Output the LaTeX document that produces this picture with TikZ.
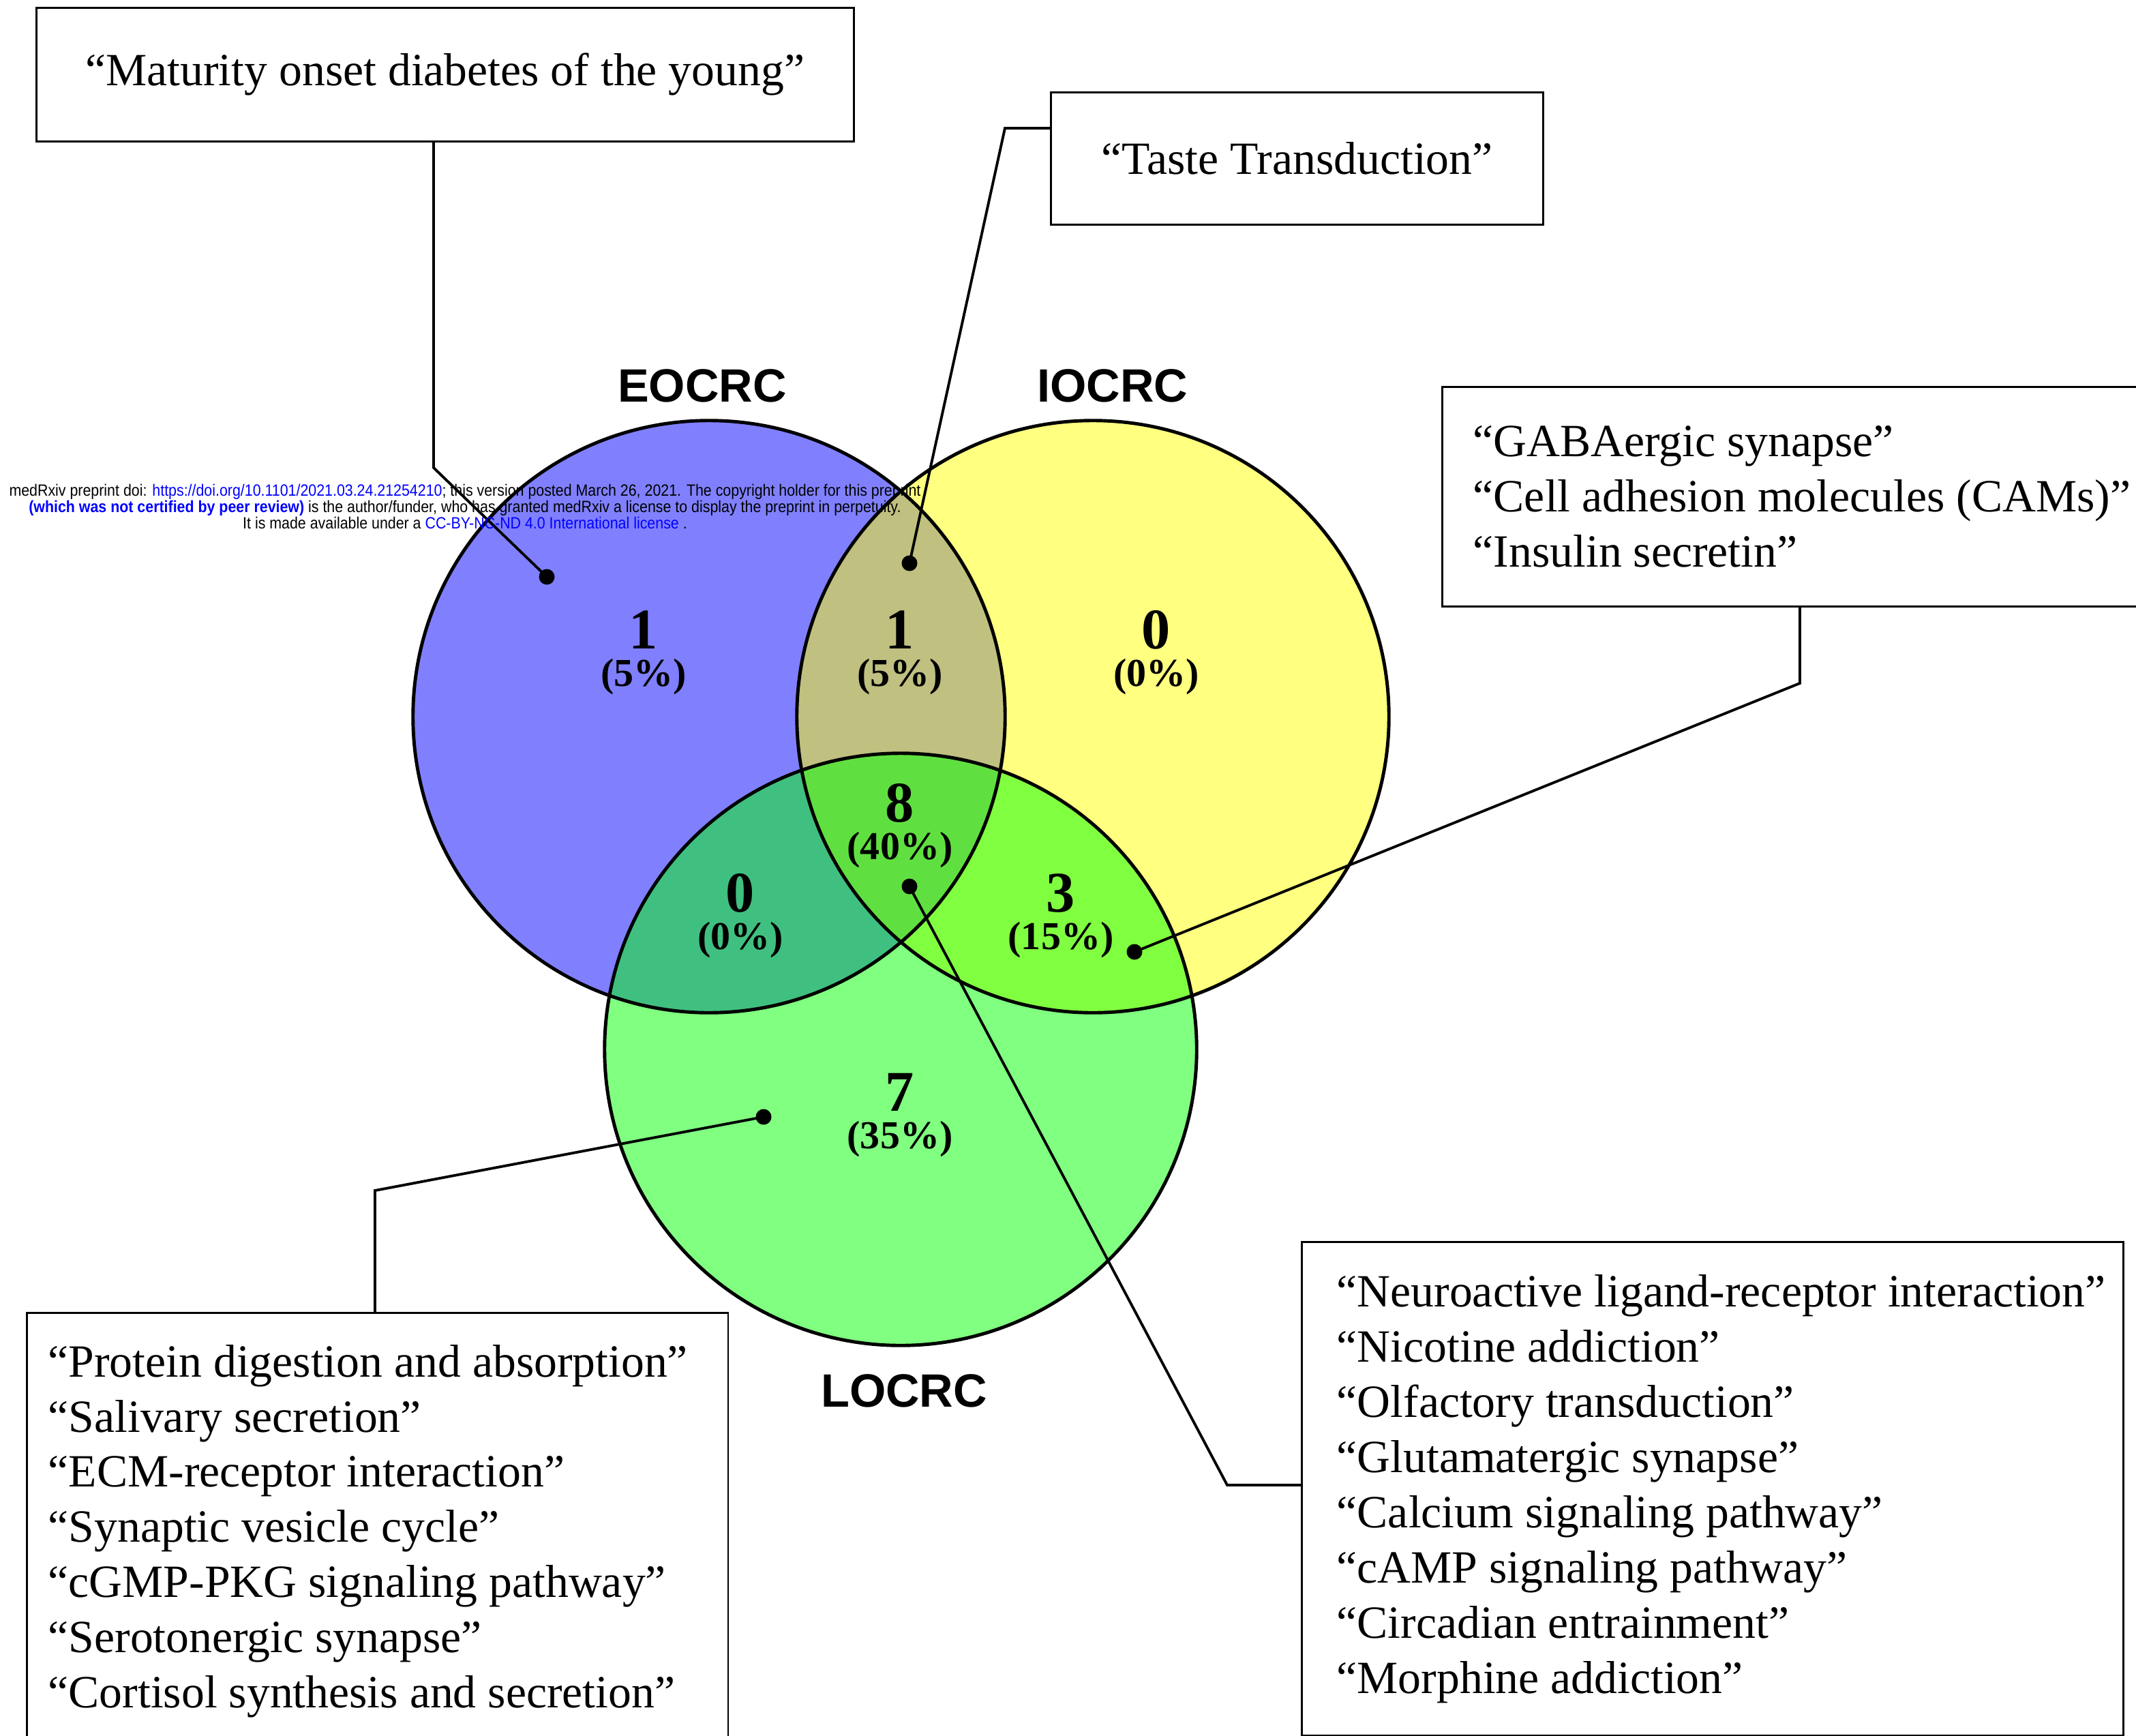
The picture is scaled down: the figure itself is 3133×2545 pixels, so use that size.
\documentclass[tikz,border=0pt]{standalone}
\usepackage{fontspec}
\setmainfont{Liberation Serif}
\setsansfont{Liberation Sans}
\definecolor{eblue}{RGB}{128,128,255}
\definecolor{iyellow}{RGB}{255,255,128}
\definecolor{lgreen}{RGB}{128,255,128}
\definecolor{eiolive}{RGB}{192,192,128}
\definecolor{elteal}{RGB}{64,192,128}
\definecolor{illime}{RGB}{128,255,64}
\definecolor{elicenter}{RGB}{96,224,64}
\definecolor{linkblue}{RGB}{0,0,255}
\begin{document}
\begin{tikzpicture}[x=0.01cm,y=-0.01cm,
  vennline/.style={draw, circle, line width=1.4pt, minimum size=8.68cm, inner sep=0pt},
  dotnode/.style={circle, fill=black, inner sep=0pt, minimum size=0.23cm},
  conn/.style={line width=1.1pt},
  boxframe/.style={draw, line width=0.8pt, inner sep=0pt, anchor=north west},
  boxtext/.style={inner sep=0pt, align=left, font=\fontsize{19.25}{23}\selectfont},
  cnt/.style={inner sep=0pt, font=\bfseries\fontsize{24}{24}\selectfont},
  pct/.style={inner sep=0pt, font=\bfseries\fontsize{16.5}{18}\selectfont},
  settitle/.style={font=\sffamily\bfseries\fontsize{19.5}{20}\selectfont}]
\clip (0,0) rectangle (3133,2545);
\fill[white] (0,0) rectangle (3133,2545);
\coordinate (cE) at (1040,1051);
\coordinate (cI) at (1603,1051);
\coordinate (cL) at (1321,1539);
% fills
\fill[eblue] (cE) circle[radius=4.34cm];
\fill[iyellow] (cI) circle[radius=4.34cm];
\fill[lgreen] (cL) circle[radius=4.34cm];
\begin{scope}
  \clip (cE) circle[radius=4.34cm];
  \fill[eiolive] (cI) circle[radius=4.34cm];
  \fill[elteal] (cL) circle[radius=4.34cm];
\end{scope}
\begin{scope}
  \clip (cI) circle[radius=4.34cm];
  \fill[illime] (cL) circle[radius=4.34cm];
\end{scope}
\begin{scope}
  \clip (cE) circle[radius=4.34cm];
  \clip (cI) circle[radius=4.34cm];
  \fill[elicenter] (cL) circle[radius=4.34cm];
\end{scope}
% outlines
\node[vennline] (E) at (cE) {};
\node[vennline] (I) at (cI) {};
\node[vennline] (L) at (cL) {};
% set titles
\node[settitle] (tE) at (1030,566) {EOCRC};
\node[settitle] (tI) at (1632,566) {IOCRC};
\node[settitle] (tL) at (1326,2040) {LOCRC};
% counts
\node[cnt] (n1) at (944,924) {1};   \node[pct] (p1) at (944,993) {(5\%)};
\node[cnt] (n2) at (1320,924) {1};  \node[pct] (p2) at (1320,993) {(5\%)};
\node[cnt] (n3) at (1696,924) {0};  \node[pct] (p3) at (1696,993) {(0\%)};
\node[cnt] (n4) at (1320,1178) {8}; \node[pct] (p4) at (1320,1247) {(40\%)};
\node[cnt] (n5) at (1086,1310) {0}; \node[pct] (p5) at (1086,1379) {(0\%)};
\node[cnt] (n6) at (1556,1310) {3}; \node[pct] (p6) at (1556,1379) {(15\%)};
\node[cnt] (n7) at (1320,1602) {7}; \node[pct] (p7) at (1320,1671) {(35\%)};
% boxes
\node[boxframe, minimum width=11.98cm, minimum height=1.96cm] (box1) at (52,10) {};
\node[boxtext] (t1) at (box1.center) {“Maturity onset diabetes of the young”};
\node[boxframe, minimum width=7.22cm, minimum height=1.94cm] (box2) at (1540,134) {};
\node[boxtext] (t2) at (box2.center) {“Taste Transduction”};
\node[boxframe, minimum width=10.46cm, minimum height=3.22cm] (box3) at (2114,566) {};
\node[boxtext, anchor=west] (t3) at ([xshift=0.46cm]box3.west) {“GABAergic synapse”\\“Cell adhesion molecules (CAMs)”\\“Insulin secretin”};
\node[boxframe, minimum width=10.28cm, minimum height=6.40cm] (box4) at (38,1924) {};
\node[boxtext, anchor=west] (t4) at ([xshift=0.32cm]box4.west) {“Protein digestion and absorption”\\“Salivary secretion”\\“ECM-receptor interaction”\\“Synaptic vesicle cycle”\\“cGMP-PKG signaling pathway”\\“Serotonergic synapse”\\“Cortisol synthesis and secretion”};
\node[boxframe, minimum width=12.04cm, minimum height=7.24cm] (box5) at (1908,1820) {};
\node[boxtext, anchor=west] (t5) at ([xshift=0.52cm]box5.west) {“Neuroactive ligand-receptor interaction”\\“Nicotine addiction”\\“Olfactory transduction”\\“Glutamatergic synapse”\\“Calcium signaling pathway”\\“cAMP signaling pathway”\\“Circadian entrainment”\\“Morphine addiction”};
% dots and connectors
\node[dotnode] (d1) at (802,846) {};
\node[dotnode] (d2) at (1334,826) {};
\node[dotnode] (d3) at (1664,1396) {};
\node[dotnode] (d4) at (1120,1638) {};
\node[dotnode] (d5) at (1334,1300) {};
\coordinate (k1) at (636,686);
\coordinate (k2) at (1474,188);
\coordinate (k3) at (2640,1002);
\coordinate (k4) at (550,1746);
\coordinate (k5) at (1800,2178);
\draw[conn] (box1.south -| k1) -- (k1) -- (d1.center);
\draw[conn] (box2.west |- k2) -- (k2) -- (d2.center);
\draw[conn] (box3.south -| k3) -- (k3) -- (d3.center);
\draw[conn] (box4.north -| k4) -- (k4) -- (d4.center);
\draw[conn] (box5.west |- k5) -- (k5) -- (d5.center);
% watermark
\node[inner sep=0pt] (wm) at (682,746) {\sffamily\fontsize{6.8}{6}\selectfont\scalebox{0.894}[1]{\begin{tabular}{@{}c@{}}medRxiv preprint doi: \textcolor{linkblue}{https://doi.org/10.1101/2021.03.24.21254210}; this version posted March 26, 2021. The copyright holder for this preprint\\\textcolor{linkblue}{\bfseries (which was not certified by peer review)} is the author/funder, who has granted medRxiv a license to display the preprint in perpetuity.\\It is made available under a \textcolor{linkblue}{CC-BY-NC-ND 4.0 International license} .\end{tabular}}};
\end{tikzpicture}
\end{document}
